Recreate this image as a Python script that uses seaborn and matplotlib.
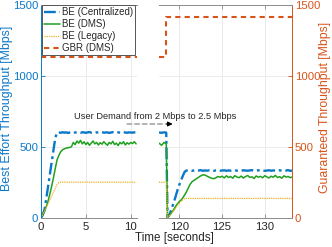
import numpy as np
import pandas as pd
import matplotlib
matplotlib.use("Agg")
import matplotlib.pyplot as plt
import seaborn as sns

# %%
# データ
# --------------------------------
t_left = [0.0, 0.2, 0.4, 0.6, 0.8, 1.0, 1.2, 1.4, 1.6, 1.8,
          2.0, 2.2, 2.4, 2.6, 2.8, 3.0, 3.2, 3.4, 3.6, 3.8,
          4.0, 4.2, 4.4, 4.6, 4.8, 5.0, 5.2, 5.4, 5.6, 5.8,
          6.0, 6.2, 6.4, 6.6, 6.8, 7.0, 7.2, 7.4, 7.6, 7.8,
          8.0, 8.2, 8.4, 8.6, 8.8, 9.0, 9.2, 9.4, 9.6, 9.8,
          10.0, 10.2, 10.4, 10.6]
be_central_left = [0, 20, 60, 140, 225, 310, 395, 480, 565, 600,
                   600, 598, 602, 599, 601, 597, 600, 603, 598, 600,
                   601, 599, 597, 602, 600, 598, 601, 603, 599, 600,
                   597, 601, 600, 598, 602, 599, 600, 601, 597, 600,
                   602, 598, 600, 601, 599, 597, 602, 600, 598, 601,
                   600, 599, 601, 600]
be_dms_left = [0, 20, 45, 80, 120, 170, 225, 285, 350, 410,
               440, 465, 478, 485, 490, 492, 495, 500, 530, 515,
               540, 525, 545, 520, 535, 515, 530, 510, 525, 540,
               520, 530, 512, 528, 518, 535, 522, 510, 530, 520,
               538, 515, 525, 508, 530, 520, 535, 512, 528, 518,
               530, 522, 535, 520]
be_legacy_left = [0, 22, 48, 75, 100, 128, 155, 182, 208, 235,
                  248, 250, 249, 251, 250, 249, 250, 251, 250, 249,
                  250, 251, 250, 249, 250, 250, 251, 249, 250, 250,
                  249, 250, 251, 250, 249, 250, 250, 251, 250, 249,
                  250, 251, 250, 249, 250, 250, 251, 250, 249, 250,
                  250, 251, 249, 250]

t_right = [117.6, 117.9, 118.2, 118.45,
           118.6, 118.8, 119.0, 119.2, 119.4, 119.6, 119.8, 120.0, 120.2, 120.4, 120.6, 120.8, 121.0,
           121.25, 121.5, 121.75, 122.0, 122.25, 122.5, 122.75, 123.0, 123.25, 123.5,
           123.75, 124.0, 124.25, 124.5, 124.75, 125.0, 125.25, 125.5, 125.75, 126.0,
           126.25, 126.5, 126.75, 127.0, 127.25, 127.5, 127.75, 128.0, 128.25, 128.5,
           128.75, 129.0, 129.25, 129.5, 129.75, 130.0, 130.25, 130.5, 130.75, 131.0,
           131.25, 131.5, 131.75, 132.0, 132.25, 132.5, 132.75, 133.0, 133.25]
be_central_right = [600, 598, 601, 599,
                    0, 20, 50, 85, 120, 160, 200, 235, 265, 295, 322, 332, 333,
                    333, 330, 334, 331, 332, 335, 330, 333, 331, 334,
                    332, 330, 333, 335, 331, 332, 334, 330, 333, 331,
                    332, 335, 331, 333, 330, 334, 332, 331, 333, 335,
                    330, 332, 334, 331, 333, 330, 332, 334, 331, 333,
                    332, 330, 334, 331, 333, 332, 335, 330, 332]
be_dms_right = [525, 510, 530, 520,
                0, 15, 30, 45, 65, 85, 100, 115, 125, 140, 160, 180, 205,
                235, 255, 265, 275, 285, 295, 302, 300, 292, 285,
                278, 275, 280, 290, 285, 292, 280, 295, 283, 290,
                278, 296, 286, 282, 293, 279, 290, 297, 284, 288,
                276, 294, 285, 291, 281, 296, 287, 280, 292, 285,
                298, 283, 289, 278, 295, 286, 290, 282, 288]
be_legacy_right = [250, 249, 251, 250,
                   0, 12, 25, 40, 55, 72, 88, 102, 115, 127, 135, 137, 136,
                   136, 135, 137, 136, 135, 136, 137, 135, 136, 136,
                   135, 136, 137, 136, 135, 136, 136, 137, 135, 136,
                   136, 135, 136, 137, 136, 135, 136, 136, 137, 135,
                   136, 136, 135, 137, 136, 136, 135, 136, 137, 136,
                   135, 136, 136, 137, 135, 136, 136, 135, 136]

gbr_t_left = [0, 10.7]
gbr_left = [1130, 1130]
gbr_t_right = [117.6, 118.45, 118.45, 133.2]
gbr_right = [1130, 1130, 1412, 1412]

labels = ["BE (Centralized)", "BE (DMS)", "BE (Legacy)", "GBR (DMS)"]

# %%
# スタイル
# --------------------------------
sns.set_theme(style="white")
plt.rcParams["font.family"] = ["Liberation Sans", "DejaVu Sans"]

c_blue = "#0A78C8"
c_green = "#1FA01F"
c_yel = "#EDB120"
c_orange = "#D95319"
c_axis = "#8a8a8a"
c_grid = "#e8e8e8"

fig = plt.figure(figsize=(3.32, 2.47), dpi=100)
ax1 = fig.add_axes([41 / 332, 29.3 / 247, 96 / 332, 213 / 247])
ax2 = fig.add_axes([159 / 332, 29.3 / 247, 133 / 332, 213 / 247])


def draw(ax, t, central, dms, legacy, gt, gbr):
    kw = dict(ax=ax, sort=False, estimator=None)
    sns.lineplot(x=t, y=central, color=c_blue, lw=1.7, linestyle=(0, (5, 1.6, 1.2, 1.6)),
                 label=labels[0], **kw)
    sns.lineplot(x=t, y=dms, color=c_green, lw=1.1, label=labels[1], **kw)
    sns.lineplot(x=t, y=legacy, color=c_yel, lw=0.9, linestyle=(0, (1, 0.8)),
                 label=labels[2], **kw)
    sns.lineplot(x=gt, y=gbr, color=c_orange, lw=1.5, linestyle=(0, (2.5, 2)),
                 label=labels[3], **kw)


draw(ax1, t_left, be_central_left, be_dms_left, be_legacy_left, gbr_t_left, gbr_left)
draw(ax2, t_right, be_central_right, be_dms_right, be_legacy_right, gbr_t_right, gbr_right)

ax1.set_xlim(0, 10.7)
ax2.set_xlim(117.6, 133.2)
for ax in (ax1, ax2):
    ax.set_ylim(0, 1500)
    ax.set_yticks([0, 500, 1000, 1500])
    ax.grid(True, color=c_grid, lw=0.6)
    ax.set_axisbelow(True)
    ax.set_xlabel("")
    ax.set_ylabel("")
    for s in ("top", "bottom"):
        ax.spines[s].set_color(c_axis)
        ax.spines[s].set_linewidth(0.7)
    ax.tick_params(axis="x", direction="in", length=3, width=0.6, color=c_axis,
                   labelsize=8.2, pad=3, top=True, bottom=True, labelcolor="#262626")

ax1.set_xticks([0, 5, 10])
ax2.set_xticks([120, 125, 130])

ax1.spines["right"].set_visible(False)
ax1.spines["left"].set_color(c_blue)
ax1.spines["left"].set_linewidth(0.7)
ax1.tick_params(axis="y", direction="in", length=3, width=0.6, color=c_blue,
                labelcolor=c_blue, labelsize=8.2, pad=2, left=True, right=False)

ax2.spines["left"].set_visible(False)
ax2.spines["right"].set_color(c_orange)
ax2.spines["right"].set_linewidth(0.7)
ax2.yaxis.tick_right()
ax2.tick_params(axis="y", direction="in", length=3, width=0.6, color=c_orange,
                labelcolor=c_orange, labelsize=8.2, pad=2, left=False, right=True)

ax2.get_legend().remove()
leg = ax1.legend(loc="upper left", bbox_to_anchor=(42 / 332, 1 - 5 / 247),
                 bbox_transform=fig.transFigure, borderaxespad=0, fontsize=7.0,
                 frameon=True, fancybox=False, edgecolor="#555555", framealpha=1,
                 handlelength=1.6, handletextpad=0.25, labelspacing=0.2, borderpad=0.22)
leg.get_frame().set_linewidth(0.7)

# 注釈
fig.text(155 / 332, 1 - 116.7 / 247, "User Demand from 2 Mbps to 2.5 Mbps",
         ha="center", va="center", fontsize=6.7, color="#262626")
ax2.annotate("", xy=(118.95, 660), xycoords="data", xytext=(9.6, 660),
             textcoords=ax1.transData, annotation_clip=False,
             arrowprops=dict(arrowstyle="-", linestyle=(0, (3, 2)), color="#a0a0a0", lw=1.1,
                             shrinkA=0, shrinkB=0))
ax2.annotate("", xy=(119.2, 660), xycoords="data", xytext=(118.5, 660),
             annotation_clip=False,
             arrowprops=dict(arrowstyle="-|>", color="black", lw=0.8, mutation_scale=7,
                             shrinkA=0, shrinkB=0))

fig.text(174 / 332, 1 - 238.3 / 247, "Time [seconds]", ha="center", va="center",
         fontsize=8.4, color="#262626")
fig.text(7.5 / 332, 1 - 108 / 247, "Best Effort Throughput [Mbps]", rotation=90,
         ha="center", va="center", fontsize=8.9, color=c_blue)
fig.text(325 / 332, 1 - 107.5 / 247, "Guaranteed Throughput [Mbps]", rotation=90,
         ha="center", va="center", fontsize=8.8, color=c_orange)

fig.savefig("out.png", dpi=100)
